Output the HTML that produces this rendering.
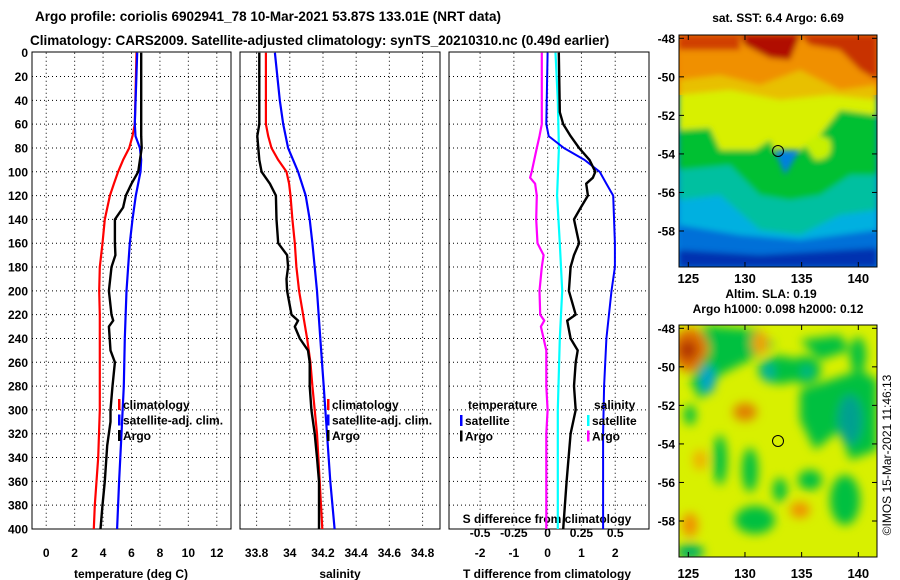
<!DOCTYPE html>
<html><head><meta charset="utf-8">
<style>
body{margin:0;background:#fff;}
svg{display:block;font-family:"Liberation Sans",Arial,sans-serif;font-weight:bold;}
</style></head>
<body>
<svg id="c" width="900" height="580" viewBox="0 0 900 580" xmlns="http://www.w3.org/2000/svg">
<defs>
<filter id="blur1" x="-20%" y="-20%" width="140%" height="140%"><feGaussianBlur stdDeviation="3"/></filter>
<filter id="blur2" x="-30%" y="-30%" width="160%" height="160%"><feGaussianBlur stdDeviation="5"/></filter>
<clipPath id="clipTop"><rect x="679" y="35" width="198" height="232"/></clipPath>
<clipPath id="clipBot"><rect x="679" y="325" width="198" height="232"/></clipPath>
</defs>
<text x="35" y="21" font-size="13.5">Argo profile: coriolis 6902941_78 10-Mar-2021 53.87S 133.01E (NRT data)</text>
<text x="30" y="45" font-size="13.5">Climatology: CARS2009. Satellite-adjusted climatology: synTS_20210310.nc (0.49d earlier)</text>

<g id="maps">
<g clip-path="url(#clipTop)">
<rect x="679" y="35" width="198" height="232" fill="#0080e0"/>
<rect x="679" y="35" width="198" height="60" fill="#f08000"/>
<g filter="url(#blur1)">
<path d="M679 35 H877 V95 H679Z" fill="#f09000"/>
<path d="M740 35 H800 L790 60 L770 58 L745 45Z" fill="#b01000"/>
<path d="M800 35 H877 V80 L860 70 L840 50 L810 45Z" fill="#c83000"/>
<path d="M679 35 H740 V50 H679Z" fill="#d04000"/>
<path d="M679 80 L720 75 L760 85 L800 70 L840 90 L877 85 V130 H679Z" fill="#e8c000"/>
<path d="M679 95 L730 90 L780 100 L830 95 L877 100 V150 H679Z" fill="#d8f000"/>
<path d="M679 130 L710 128 L720 150 L755 150 L770 140 L785 175 L800 150 L820 135 L840 110 L877 115 V267 H679Z" fill="#00c030"/>
<path d="M805 145 Q815 130 830 140 Q835 160 815 160 Z" fill="#c8f000"/>
<path d="M679 170 L730 165 L760 195 L790 200 L820 195 L850 175 L877 175 V267 H679Z" fill="#00c0a0"/>
<path d="M679 200 L720 195 L760 230 L800 235 L840 215 L877 210 V267 H679Z" fill="#00b0e0"/>
<path d="M679 225 L740 235 L800 240 L877 230 V267 H679Z" fill="#0070d8"/>
<path d="M679 250 L760 255 L877 248 V267 H679Z" fill="#0030b0"/>
</g>
</g>
<rect x="679" y="35" width="198" height="232" fill="none" stroke="#000"/>
<circle cx="778" cy="151" r="5.5" fill="none" stroke="#000"/>

<g clip-path="url(#clipBot)">
<rect x="679" y="325" width="198" height="232" fill="#d8f000"/>
<g filter="url(#blur2)">
<ellipse cx="690" cy="350" rx="18" ry="22" fill="#e07000"/>
<ellipse cx="688" cy="350" rx="9" ry="10" fill="#b03000"/>
<path d="M700 325 L760 330 L775 345 L750 360 L720 375 L700 400 L690 380 L710 350Z" fill="#00c040"/>
<ellipse cx="708" cy="380" rx="7" ry="14" fill="#00a0d0"/>
<ellipse cx="780" cy="370" rx="22" ry="14" fill="#00c040"/>
<ellipse cx="768" cy="372" rx="6" ry="10" fill="#00b0a0"/>
<ellipse cx="805" cy="370" rx="16" ry="14" fill="#00c040"/>
<ellipse cx="807" cy="372" rx="5" ry="5" fill="#00b0a0"/>
<path d="M800 390 L860 370 L877 380 V450 L850 460 L840 430 L815 450 L800 420Z" fill="#00c040"/>
<ellipse cx="850" cy="420" rx="12" ry="25" fill="#00a090"/>
<path d="M800 340 L840 335 L850 350 L820 360Z" fill="#00c040"/>
<ellipse cx="760" cy="343" rx="8" ry="12" fill="#f0a000"/>
<ellipse cx="745" cy="412" rx="12" ry="9" fill="#e08000"/>
<ellipse cx="720" cy="460" rx="7" ry="25" fill="#00c040"/>
<ellipse cx="750" cy="470" rx="8" ry="22" fill="#00c040"/>
<ellipse cx="780" cy="490" rx="7" ry="12" fill="#00c040"/>
<ellipse cx="810" cy="480" rx="12" ry="10" fill="#00c040"/>
<ellipse cx="845" cy="500" rx="15" ry="25" fill="#00c040"/>
<ellipse cx="755" cy="520" rx="20" ry="14" fill="#00c040"/>
<ellipse cx="700" cy="460" rx="7" ry="10" fill="#f0b000"/>
<ellipse cx="690" cy="525" rx="8" ry="12" fill="#f09000"/>
<ellipse cx="800" cy="510" rx="10" ry="8" fill="#f09000"/>
<ellipse cx="690" cy="552" rx="14" ry="8" fill="#00b060"/>
<ellipse cx="858" cy="355" rx="8" ry="18" fill="#00c040"/>
<ellipse cx="690" cy="415" rx="6" ry="10" fill="#00c040"/>
</g>
</g>
<rect x="679" y="325" width="198" height="232" fill="none" stroke="#000"/>
<circle cx="778" cy="441" r="5.5" fill="none" stroke="#000"/>

<text x="778" y="22" font-size="12" text-anchor="middle">sat. SST: 6.4 Argo: 6.69</text>
<text x="771" y="298" font-size="12" text-anchor="middle">Altim. SLA: 0.19</text>
<text x="778" y="313" font-size="12" text-anchor="middle">Argo h1000: 0.098 h2000: 0.12</text>
<text transform="translate(891,455) rotate(-90)" font-size="12" font-weight="normal" text-anchor="middle">©IMOS 15-Mar-2021 11:46:13</text>
</g>
<g id="plots"></g>
</svg>
<script>
// ---- data ----
const depthTicks = [0,20,40,60,80,100,120,140,160,180,200,220,240,260,280,300,320,340,360,380,400];
const tTicks = [0,2,4,6,8,10,12];
const sTicks = [33.8,34,34.2,34.4,34.6,34.8];
const dTTicks = [-2,-1,0,1,2];
const dSTicks = [-0.5,-0.25,0,0.25,0.5];
const dSTickLabels = ["-0.5","-0.25","0","0.25","0.5"];

const tArgoDepth = [0,70,80,100,110,120,130,140,160,170,180,200,220,225,230,250,260,280,300,310,330,360,380,400];
const tArgo = [6.68,6.68,6.72,6.47,6.0,5.6,5.41,4.83,4.83,4.87,4.59,4.41,4.59,4.71,4.41,4.52,4.83,4.66,4.52,4.52,4.29,4.12,3.96,3.82];
const tClimDepth = [0,60,70,80,90,100,110,120,140,160,180,200,220,260,300,340,360,380,400];
const tClim = [6.35,6.23,6.07,5.84,5.41,5.06,4.76,4.48,4.12,3.96,3.77,3.73,3.77,3.77,3.77,3.66,3.54,3.42,3.35];
const tSatDepth = [0,60,70,80,90,100,120,140,160,200,240,280,320,360,400];
const tSat = [6.4,6.23,6.28,6.59,6.68,6.63,6.30,6.07,5.88,5.65,5.53,5.46,5.3,5.13,4.99];

const sArgoDepth = [0,60,70,80,90,100,110,120,140,160,170,180,190,200,220,225,230,240,250,260,280,300,320,340,360,400];
const sArgo = [33.816,33.816,33.804,33.81,33.816,33.83,33.88,33.916,33.92,33.93,33.984,33.99,33.98,33.984,34.01,34.05,34.03,34.06,34.11,34.12,34.12,34.13,34.15,34.164,34.176,34.176];
const sClimDepth = [0,60,70,80,90,100,110,120,140,160,180,200,220,240,260,280,300,320,360,400];
const sClim = [33.856,33.856,33.87,33.89,33.93,33.98,33.996,34.004,34.016,34.03,34.04,34.056,34.08,34.104,34.124,34.136,34.15,34.164,34.18,34.196];
const sSatDepth = [0,40,60,80,100,120,140,160,180,200,240,280,320,360,400];
const sSat = [33.91,33.94,33.96,33.99,34.05,34.096,34.12,34.136,34.15,34.164,34.184,34.204,34.224,34.244,34.27];

const dTSatDepth = [0,60,70,80,90,100,110,120,160,180,200,240,280,320,400];
const dTSat = [0,-0.04,0.03,0.48,1.09,1.54,1.74,1.94,1.99,1.99,1.89,1.74,1.67,1.64,1.64];
const dTArgoDepth = [0,50,60,70,80,90,100,105,110,120,130,140,160,170,180,200,220,225,240,250,260,280,300,320,360,400];
const dTArgo = [0.33,0.36,0.46,0.68,0.93,1.24,1.41,1.34,1.14,1.19,0.98,0.78,0.93,0.78,0.68,0.63,0.83,0.58,0.68,0.89,0.83,0.78,0.83,0.68,0.56,0.46];
const dSSatDepth = [0,40,80,120,160,200,240,300,400];
const dSSat = [0.058,0.075,0.083,0.07,0.09,0.108,0.09,0.075,0.075];
const dSArgoDepth = [0,60,70,80,100,105,110,120,140,160,170,180,200,220,225,230,250,280,300,320,400];
const dSArgo = [-0.043,-0.043,-0.06,-0.08,-0.118,-0.13,-0.093,-0.08,-0.085,-0.075,-0.03,-0.043,-0.06,-0.055,-0.025,-0.05,-0.01,-0.01,0,-0.01,-0.01];

const mapLats = [-48,-50,-52,-54,-56,-58];
const mapLons = [125,130,135,140];

// ---- scales ----
const NS = "http://www.w3.org/2000/svg";
const Y0 = 52.7, Y1 = 529;
const yD = d => Y0 + (d/400)*(Y1-Y0);
function lin(d0,d1,r0,r1){return v => r0 + (v-d0)/(d1-d0)*(r1-r0);}
const panels = [
  {x0:32,x1:231,d0:-1,d1:13},
  {x0:240,x1:440,d0:33.7,d1:34.905},
  {x0:449,x1:649,d0:-2.92,d1:3.0}
];
panels.forEach(p=>p.sx=lin(p.d0,p.d1,p.x0,p.x1));
const xT = panels[0].sx, xS = panels[1].sx, xDT = panels[2].sx;
const xDS = v => xDT(v*4);
const g = document.getElementById('plots');

function el(tag, attrs, parent){const e=document.createElementNS(NS,tag);for(const k in attrs)e.setAttribute(k,attrs[k]);(parent||g).appendChild(e);return e;}
function txt(x,y,s,size,anchor,parent){const t=el('text',{x:x,y:y,'font-size':size,'text-anchor':anchor},parent);t.textContent=s;return t;}

// grids and frames
panels.forEach((p,i)=>{
  const fr = el('rect',{x:p.x0,y:Y0-0.7,width:p.x1-p.x0,height:Y1-Y0+0.7,fill:'#fff',stroke:'#000','stroke-width':1});
  
  
  depthTicks.forEach(d=>{
    if(d===0||d===400) return;
    const l=el('line',{x1:p.x0,x2:p.x1,y1:yD(d),y2:yD(d),stroke:'#000','stroke-dasharray':'1 3','stroke-width':1});
    
    
  });
  const ticks = i===0?tTicks:(i===1?sTicks:dTTicks);
  ticks.forEach(v=>{
    const x=p.sx(v);
    const l=el('line',{x1:x,x2:x,y1:Y0,y2:Y1,stroke:'#000','stroke-dasharray':'1 3','stroke-width':1});
    
    
    const t=txt(x,557,String(v),12,'middle');
    
    
  });
});
depthTicks.forEach(d=>{
  const t=txt(28,yD(d)+4.5,String(d),12,'end');
  
  
});
[['temperature (deg C)',131],['salinity',340],['T difference from climatology',547]].forEach((a,i)=>{
  const t=txt(a[1],578,a[0],12,'middle');
  
  
});
dSTicks.forEach((v,i)=>{
  const t=txt(xDS(v),537,dSTickLabels[i],12,'middle');
  
  
});
{const t=txt(547,523,'S difference from climatology',12,'middle');
 
 }

function series(depths, vals, sx, color, w, name){
  let d='';
  for(let i=0;i<depths.length;i++){
    const x=sx(vals[i]).toFixed(1), y=yD(depths[i]).toFixed(1);
    d += (i===0?'M':' L')+x+' '+y;
  }
  const p=el('path',{d:d,fill:'none',stroke:color,'stroke-width':w,'stroke-linejoin':'round'});
  
  
}
series(tClimDepth,tClim,xT,'#ff0000',2.2,'temp-climatology-line');
series(tSatDepth,tSat,xT,'#0000ff',2.2,'temp-satellite-line');
series(tArgoDepth,tArgo,xT,'#000000',2.4,'temp-argo-line');
series(sClimDepth,sClim,xS,'#ff0000',2.2,'sal-climatology-line');
series(sSatDepth,sSat,xS,'#0000ff',2.2,'sal-satellite-line');
series(sArgoDepth,sArgo,xS,'#000000',2.4,'sal-argo-line');
series(dSSatDepth,dSSat,xDS,'#00ffff',2.2,'sdiff-satellite-line');
series(dSArgoDepth,dSArgo,xDS,'#ff00ff',2.2,'sdiff-argo-line');
series(dTSatDepth,dTSat,xDT,'#0000ff',2,'tdiff-satellite-line');
series(dTArgoDepth,dTArgo,xDT,'#000000',2.4,'tdiff-argo-line');

function legend(x,y,items){
  items.forEach((it,i)=>{
    const yy=y+i*15.5;
    const m=el('rect',{x:x,y:yy-10,width:2.5,height:11,fill:it[1]});
    
    
    const t=txt(x+5,yy,it[0],12,'start');
    
    
  });
}
legend(118,409,[['climatology','#ff0000'],['satellite-adj. clim.','#0000ff'],['Argo','#000']]);
legend(327,409,[['climatology','#ff0000'],['satellite-adj. clim.','#0000ff'],['Argo','#000']]);
{const t=txt(468,409,'temperature',12,'start');}
{const t=txt(594,409,'salinity',12,'start');}
legend(460,425,[['satellite','#0000ff'],['Argo','#000']]);
legend(587,425,[['satellite','#00ffff'],['Argo','#ff00ff']]);

// map axes
const latTop = lin(-48,-58,38.3,231), latBot = lin(-48,-58,328.3,521), lonX = lin(125,140,688.3,858.3);
[[latTop,35,267,283],[latBot,325,557,578]].forEach((m,k)=>{
  mapLats.forEach(v=>{
    const y=m[0](v);
    el('line',{x1:679,x2:684,y1:y,y2:y,stroke:'#000'});
    el('line',{x1:872,x2:877,y1:y,y2:y,stroke:'#000'});
    const t=txt(675,y+4.5,String(v),12,'end');
    
    
  });
  mapLons.forEach(v=>{
    const x=lonX(v);
    el('line',{x1:x,x2:x,y1:m[2]-5,y2:m[2],stroke:'#000'});
    el('line',{x1:x,x2:x,y1:m[1],y2:m[1]+5,stroke:'#000'});
    const t=txt(x,m[3],String(v),13,'middle');
    
    
  });
});
</script>
</body></html>
